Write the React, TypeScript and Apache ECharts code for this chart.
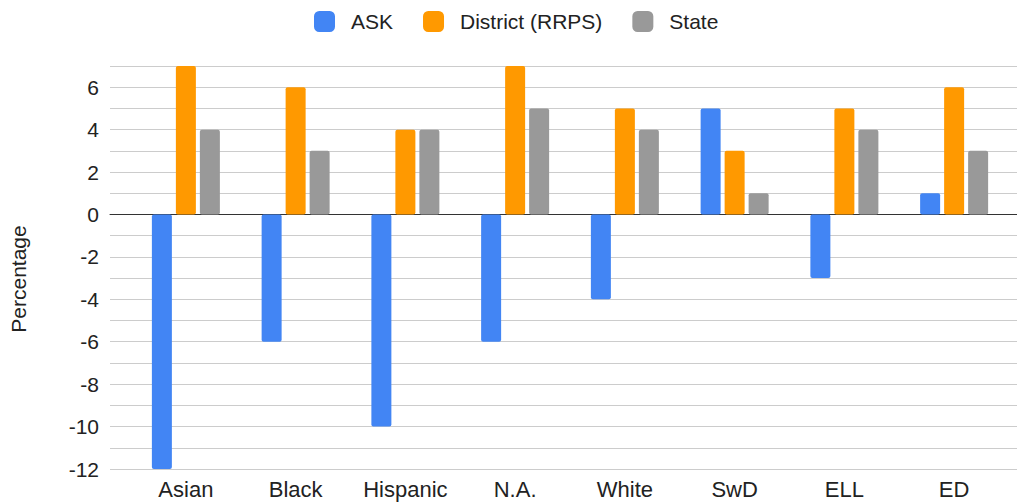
import React, { useEffect, useRef } from "react";
import * as echarts from "echarts";

const categories = ["Asian", "Black", "Hispanic", "N.A.", "White", "SwD", "ELL", "ED"];
const askValues = [-12, -6, -10, -6, -4, 5, -3, 1];
const districtValues = [7, 6, 4, 7, 5, 3, 5, 6];
const stateValues = [4, 3, 4, 5, 4, 1, 4, 3];
const seriesNames = ["ASK", "District (RRPS)", "State"];
const colors = ["#4285F4", "#FF9900", "#999999"];

const FONT = 'Arial, "Liberation Sans", sans-serif';

export default function App() {
  const ref = useRef<HTMLDivElement>(null);
  useEffect(() => {
    if (!ref.current) return;
    const chart = echarts.init(ref.current, undefined, { renderer: "svg" });
    const barCommon = {
      type: "bar" as const,
      xAxisIndex: 1,
      yAxisIndex: 1,
      barWidth: 20,
      barGap: "20%",
      z: 5,
    };
    chart.setOption({
      animation: false,
      backgroundColor: "#ffffff",
      textStyle: { fontFamily: FONT },
      color: colors,
      legend: {
        top: 11,
        left: 314,
        padding: 0,
        itemWidth: 21,
        itemHeight: 21,
        itemGap: 30,
        icon: "roundRect",
        textStyle: { fontSize: 21, color: "#222", fontFamily: FONT, padding: [0, 0, 0, 11] },
        data: seriesNames,
      },
      graphic: [
        {
          type: "text",
          x: 18,
          y: 279,
          rotation: Math.PI / 2,
          style: {
            text: "Percentage",
            fontSize: 21,
            fontFamily: FONT,
            fill: "#222",
            textAlign: "center",
            textVerticalAlign: "middle",
          },
        },
      ],
      grid: [
        { left: 110, right: 0, top: 66, bottom: 34 },
        { left: 131, right: 8, top: 66, bottom: 34 },
      ],
      xAxis: [
        {
          gridIndex: 0,
          type: "category",
          data: categories,
          axisLine: { show: true, onZero: true, lineStyle: { color: "#333", width: 1 } },
          axisTick: { show: false },
          axisLabel: { show: false },
          splitLine: { show: false },
          z: 3,
        },
        {
          gridIndex: 1,
          type: "category",
          data: categories,
          axisLine: { show: false },
          axisTick: { show: false },
          axisLabel: { fontSize: 22, color: "#222", margin: 9, fontFamily: FONT },
        },
      ],
      yAxis: [
        {
          gridIndex: 0,
          type: "value",
          min: -12,
          max: 7,
          interval: 1,
          axisLine: { show: false },
          axisTick: { show: false },
          axisLabel: {
            fontSize: 21,
            color: "#222",
            margin: 11,
            fontFamily: FONT,
            formatter: (v: number) => (v % 2 === 0 ? String(v) : ""),
          },
          splitLine: { show: true, lineStyle: { color: "#cccccc", width: 1 } },
        },
        {
          gridIndex: 1,
          type: "value",
          min: -12,
          max: 7,
          interval: 1,
          show: false,
          splitLine: { show: false },
        },
      ],
      series: [
        { ...barCommon, name: seriesNames[0], data: askValues, itemStyle: { color: colors[0], borderRadius: 2 } },
        { ...barCommon, name: seriesNames[1], data: districtValues, itemStyle: { color: colors[1], borderRadius: 2 } },
        { ...barCommon, name: seriesNames[2], data: stateValues, itemStyle: { color: colors[2], borderRadius: 2 } },
      ],
    });
    return () => chart.dispose();
  }, []);
  return (
    <div
      ref={ref}
      style={{ position: "absolute", left: 0, top: 0, width: 1017, height: 503 }}
    />
  );
}
